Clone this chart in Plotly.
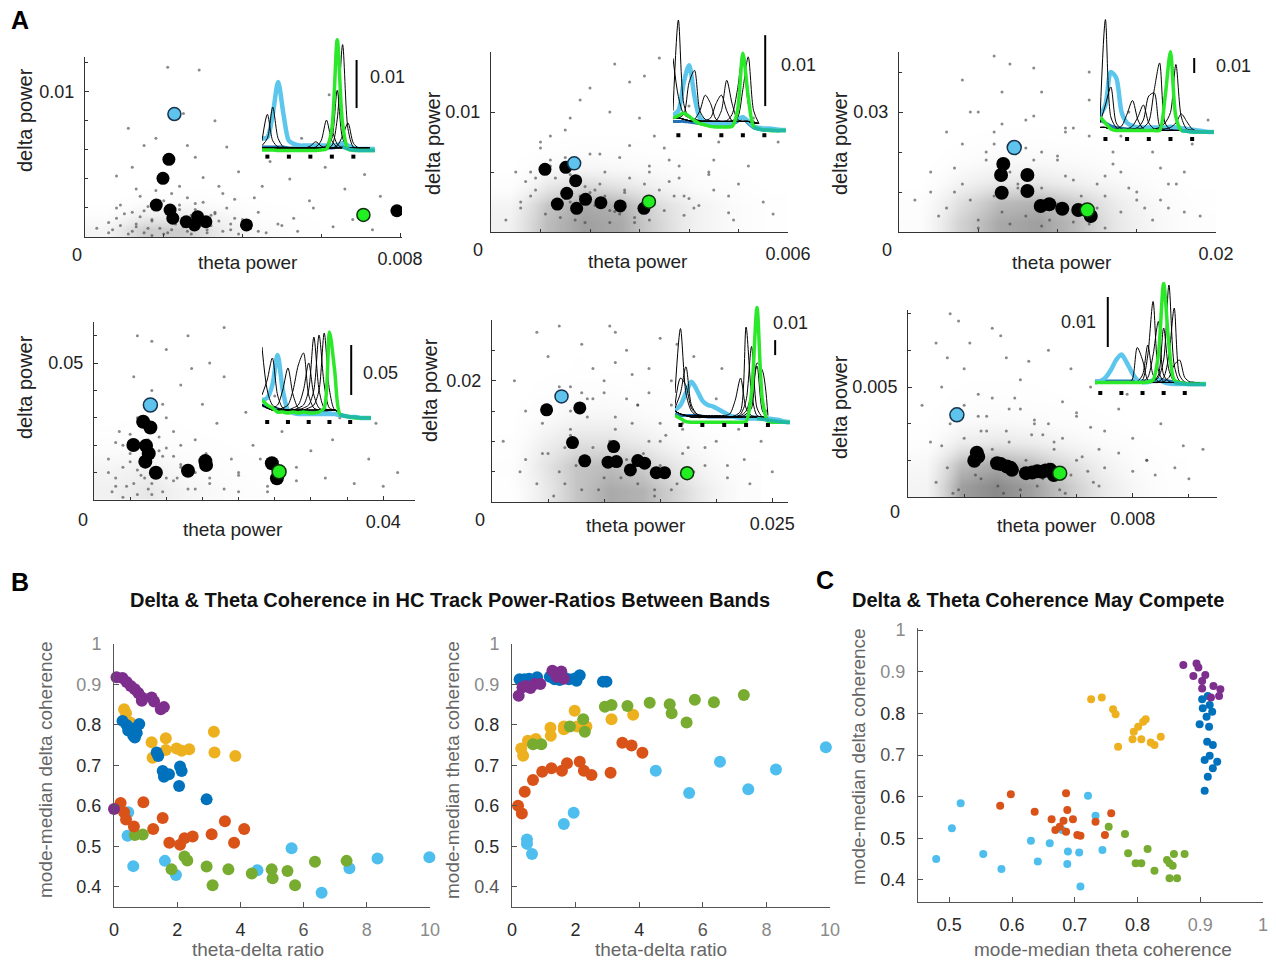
import plotly.graph_objects as go

W, H = 1276, 962
FONT = "Liberation Sans, Arial, Helvetica, sans-serif"

# ===================== PANEL A DATA =====================
# A1, A2, A6 values in units of 1e-4 ; A3, A4, A5 in units of 1e-3
A1_gray_x = [21,29,11,15,18,25,33,36,28,39,45,52,55,61,66,71,75,78,68,58,49,43,35,30,24,13,8,6,3,17,22,27,32,38,42,53,63,73,12,19,26,47,62,8,57,
             6,9,12,14,16,20,23,26,29,31,34,37,40,44,10,15,19,24,28,33]
A1_gray_y = [117,115,75,63,68,85,80,62,55,45,35,40,68,48,33,43,28,19,12,20,9,27,30,41,35,33,20,10,6,12,5,15,8,13,6,13,7,5,48,41,63,52,98,42,25,
             3,8,4,14,6,2,9,4,7,3,11,5,9,4,16,18,25,22,19,17]
A1_core_x = [7,11,13,15,17,19,21,23,25,27,29,31,33,35,37,39,42,46,50,54,8,12,16,20,24,28,32,36,40,44,14,18,22,26,30,34,38,9,13,17]
A1_core_y = [5,2,9,3,11,6,3,14,7,2,12,5,16,4,9,2,6,3,8,4,13,17,21,25,19,23,15,20,12,17,28,32,30,27,24,35,26,22,7,1]
A1_grid_x = [5, 15, 25, 35, 45, 55, 65, 75]
A1_grid_y = [5, 15, 25, 35, 45]
A1_grid_z = [[0.30, 0.65, 0.65, 0.40, 0.22, 0.10, 0.05, 0.03],
             [0.15, 0.38, 0.42, 0.28, 0.14, 0.07, 0.04, 0.02],
             [0.05, 0.14, 0.18, 0.11, 0.07, 0.04, 0.02, 0.00],
             [0.00, 0.05, 0.07, 0.05, 0.03, 0.02, 0.00, 0.00],
             [0.00, 0.02, 0.03, 0.02, 0.01, 0.00, 0.00, 0.00]]
A1_black_x = [21.3, 19.8, 18.1, 21.6, 22.3, 25.7, 27.8, 28.6, 30.7, 41.0, 79.2]
A1_black_y = [53.5, 40.4, 22.0, 18.6, 12.9, 10.5, 8.3, 14.0, 10.5, 8.3, 18.1]
A1_blue = (22.7, 84.7)
A1_green = (70.7, 15.2)

A2_gray_x = [3, 8, 12, 15, 20, 25, 30, 35, 40, 45, 50, 55, 58, 5, 10, 18, 22, 28, 33, 38, 43, 48, 52, 57, 13, 17, 24, 27, 31, 36, 41, 46, 26, 19, 9, 44, 53, 29, 34, 6, 39, 49, 16, 21, 32]
A2_gray_y = [10, 30, 55, 85, 120, 140, 95, 70, 105, 60, 40, 25, 75, 50, 75, 110, 65, 125, 80, 45, 90, 30, 55, 15, 20, 40, 100, 35, 130, 60, 20, 75, 15, 25, 45, 50, 95, 8, 145, 25, 30, 10, 95, 35, 50]
A2_core_x = [6,9,11,13,15,17,19,21,23,25,27,29,31,33,35,37,39,42,45,48,8,12,16,20,24,28,32,36,40,44,10,14,18,22,26,30,34,38,12,16,20,24,28,32,7,11,15,19,23,27]
A2_core_y = [20,35,15,45,28,10,38,22,50,17,33,12,40,25,18,30,14,22,35,16,50,60,25,65,8,45,55,42,28,48,70,12,30,40,62,20,35,55,80,48,33,18,72,10,42,55,62,8,30,24]
A2_grid_x = [3.75, 11.25, 18.75, 26.25, 33.75, 41.25, 48.75, 56.25]
A2_grid_y = [7.5, 22.5, 37.5, 52.5, 67.5, 82.5]
A2_grid_z = [[0.35, 0.75, 0.90, 0.85, 0.60, 0.35, 0.20, 0.10],
             [0.30, 0.70, 0.85, 0.80, 0.55, 0.35, 0.20, 0.10],
             [0.15, 0.45, 0.60, 0.50, 0.35, 0.20, 0.12, 0.05],
             [0.05, 0.25, 0.30, 0.25, 0.20, 0.12, 0.07, 0.03],
             [0.02, 0.10, 0.15, 0.12, 0.10, 0.06, 0.03, 0.01],
             [0.00, 0.04, 0.06, 0.06, 0.04, 0.02, 0.01, 0.00]]
A2_black_x = [10.9, 15.1, 17.1, 15.3, 13.4, 17.3, 19.1, 22.2, 26.1, 30.9]
A2_black_y = [52.2, 53.9, 42.8, 32.2, 23.3, 19.7, 27.2, 24.4, 21.7, 19.7]
A2_blue = (16.8, 57.2)
A2_green = (31.9, 25.3)

A3_gray_x = [1, 2, 3, 4, 5, 6, 7, 8, 9, 10, 11, 12, 13, 14, 15, 16, 17, 18, 19, 19.5, 2.5, 3.5, 5.5, 7.5, 9.5, 11.5, 13.5, 15.5, 17.5, 4.5, 6.5, 8.5, 10.5, 12.5, 14.5, 16.5, 18.5, 6, 9, 12]
A3_gray_y = [8, 15, 25, 38, 30, 22, 42, 28, 35, 18, 26, 33, 14, 24, 10, 20, 6, 15, 4, 28, 4, 10, 18, 12, 8, 5, 20, 6, 12, 30, 35, 41, 25, 12, 30, 8, 22, 44, 20, 40]
A3_core_x = [3,4,5,6,7,8,9,10,11,12,13,14,15,16,3.5,4.5,5.5,6.5,7.5,8.5,9.5,10.5,11.5,12.5,13.5,14.5,4,6,8,10,12,14,5,7,9,11,13,6.5,8.5,10.5,2,17,18,16.5]
A3_core_y = [6,12,3,9,15,4,11,7,13,2,9,5,8,3,16,8,20,5,11,18,3,14,9,6,17,11,22,25,21,19,24,15,1,2,1.5,2.5,1,27,29,26,10,12,5,16]
A3_grid_x = [1.25, 3.75, 6.25, 8.75, 11.25, 13.75, 16.25, 18.75]
A3_grid_y = [2.5, 7.5, 12.5, 17.5, 22.5, 27.5]
A3_grid_z = [[0.15, 0.60, 0.85, 0.90, 0.75, 0.45, 0.25, 0.12],
             [0.12, 0.50, 0.75, 0.80, 0.65, 0.40, 0.22, 0.10],
             [0.05, 0.30, 0.45, 0.45, 0.35, 0.25, 0.12, 0.05],
             [0.02, 0.15, 0.25, 0.25, 0.20, 0.12, 0.06, 0.02],
             [0.00, 0.07, 0.12, 0.12, 0.10, 0.06, 0.03, 0.01],
             [0.00, 0.03, 0.05, 0.05, 0.04, 0.02, 0.01, 0.00]]
A3_black_x = [6.58, 6.44, 6.48, 8.1, 8.1, 8.94, 9.48, 10.3, 11.31, 12.1]
A3_black_y = [17.0, 14.25, 9.83, 14.25, 10.25, 6.5, 6.92, 5.83, 5.5, 4.0]
A3_blue = (7.27, 21.1)
A3_green = (11.88, 5.5)

A4_gray_x = [2, 3, 4, 5, 6, 7, 8, 9, 10, 11, 12, 13, 14, 15, 16, 17, 18, 19, 20, 21, 22, 24, 26, 28, 30, 32, 34, 36, 38, 40, 42,
             3.5, 5.5, 7.5, 9.5, 11.5, 13.5, 15.5, 8, 10, 12, 6, 14, 25, 33, 39, 20, 16, 23, 18]
A4_gray_y = [10, 5, 20, 14, 30, 8, 40, 18, 55, 25, 12, 60, 22, 35, 8, 28, 45, 15, 10, 32, 20, 5, 25, 12, 18, 8, 30, 6, 15, 5, 10,
             25, 45, 22, 35, 8, 48, 17, 58, 30, 42, 60, 4, 38, 22, 28, 3, 50, 15, 63]
A4_core_x = [2.5,3,4,4.5,5,6,6.5,7,8,9,9.5,10,11,12,13,14,3,5,7,9,11,2,4,6,8,10,12,5.5,7.5,9.5,16,18,20,24,28]
A4_core_y = [3,8,12,5,17,2,9,14,6,11,3,19,7,13,4,10,21,24,18,23,16,15,1,11,2,8,20,6,4,16,6,4,9,3,7]
A4_grid_x = [2.5, 7.5, 12.5, 17.5, 22.5, 27.5, 32.5, 37.5]
A4_grid_y = [4, 12, 20, 28, 36, 44]
A4_grid_z = [[0.35, 0.45, 0.30, 0.20, 0.12, 0.08, 0.05, 0.03],
             [0.30, 0.35, 0.22, 0.14, 0.08, 0.05, 0.03, 0.02],
             [0.15, 0.20, 0.12, 0.08, 0.04, 0.02, 0.01, 0.00],
             [0.06, 0.10, 0.06, 0.03, 0.02, 0.01, 0.00, 0.00],
             [0.03, 0.05, 0.03, 0.02, 0.01, 0.00, 0.00, 0.00],
             [0.01, 0.02, 0.02, 0.01, 0.00, 0.00, 0.00, 0.00]]
A4_black_x = [6.8, 7.8, 5.45, 7.2, 7.57, 7.1, 8.56, 13.0, 15.4, 15.5, 24.6, 25.3]
A4_black_y = [28.6, 26.5, 20.1, 19.8, 17.0, 14.0, 9.97, 10.7, 14.2, 12.8, 13.4, 7.9]
A4_blue = (7.8, 34.7)
A4_green = (25.6, 10.3)

A5_gray_x = [1, 2, 3, 4, 5, 6, 7, 8, 9, 10, 11, 12, 13, 14, 15, 16, 17, 18, 19, 20, 21, 22, 23, 24, 25, 2.5, 4.5, 6.5, 8.5, 10.5, 12.5, 14.5, 16.5, 18.5, 20.5, 22.5, 24.5, 7, 11, 15]
A5_gray_y = [10, 20, 15, 28, 24, 29, 12, 26, 22, 18, 28, 25, 16, 22, 27, 20, 13, 24, 9, 17, 6, 12, 3, 10, 5, 5, 8, 3, 17, 29, 21, 2, 26, 14, 22, 7, 15, 19, 23, 10]
A5_core_x = [4,5,6,7,8,9,10,11,12,13,14,15,16,17,18,4.5,5.5,6.5,7.5,8.5,9.5,10.5,11.5,12.5,13.5,14.5,15.5,16.5,17.5,5,7,9,11,13,15,17,6,8,10,12,14,16,3,19,20,21]
A5_core_y = [3,8,5,11,2,9,4,12,7,3,10,6,2,8,5,13,1,9,6,14,2,10,4,13,8,1,11,3,9,16,15,17,14,16,13,12,19,18,20,17,18,16,7,6,10,4]
A5_grid_x = [1.5, 4.5, 7.5, 10.5, 13.5, 16.5, 19.5, 22.5]
A5_grid_y = [2, 6, 10, 14, 18, 22]
A5_grid_z = [[0.10, 0.40, 0.70, 0.85, 0.80, 0.60, 0.35, 0.15],
             [0.12, 0.45, 0.70, 0.75, 0.65, 0.45, 0.25, 0.12],
             [0.08, 0.35, 0.50, 0.50, 0.40, 0.25, 0.15, 0.07],
             [0.04, 0.20, 0.30, 0.30, 0.22, 0.14, 0.08, 0.04],
             [0.02, 0.10, 0.15, 0.15, 0.10, 0.06, 0.03, 0.01],
             [0.01, 0.05, 0.07, 0.06, 0.04, 0.02, 0.01, 0.00]]
A5_black_x = [4.87, 7.83, 7.18, 10.85, 8.27, 10.35, 11.1, 12.34, 13.0, 13.61, 14.65, 15.39]
A5_black_y = [15.2, 15.5, 9.8, 9.14, 6.78, 6.56, 6.66, 5.29, 6.83, 6.4, 4.84, 4.84]
A5_blue = (6.2, 17.4)
A5_green = (17.4, 4.74)

A6_gray_x = [5, 10, 15, 20, 25, 30, 35, 40, 45, 50, 55, 60, 65, 70, 75, 80, 85, 90, 95, 100, 105, 8, 12, 18, 22, 28, 33, 38, 43, 48, 58, 68, 78, 88, 98, 14, 26, 36, 52, 62]
A6_gray_y = [45, 62, 70, 55, 48, 66, 58, 52, 40, 60, 46, 42, 50, 38, 44, 36, 30, 40, 28, 25, 33, 35, 50, 68, 62, 42, 64, 47, 57, 37, 55, 33, 48, 26, 34, 58, 38, 44, 35, 68]
A6_core_x = [10,14,18,22,26,30,34,38,42,46,50,54,58,62,66,70,12,16,20,24,28,32,36,40,44,48,52,56,60,64,68,15,25,35,45,55,65,75,80,85,20,30,40,50,60]
A6_core_y = [24,28,22,31,25,33,21,27,30,23,29,22,26,31,24,28,34,21,36,26,38,23,35,22,37,25,33,21,30,27,23,40,42,38,41,36,39,32,27,30,45,47,44,40,43]
A6_grid_x = [6.25, 18.75, 31.25, 43.75, 56.25, 68.75, 81.25, 93.75]
A6_grid_y = [23, 29, 35, 41, 47, 53]
A6_grid_z = [[0.30, 0.90, 1.00, 0.90, 0.70, 0.45, 0.25, 0.10],
             [0.25, 0.75, 0.85, 0.75, 0.55, 0.35, 0.18, 0.08],
             [0.12, 0.40, 0.45, 0.40, 0.30, 0.20, 0.10, 0.04],
             [0.06, 0.20, 0.22, 0.20, 0.14, 0.08, 0.04, 0.02],
             [0.03, 0.10, 0.12, 0.10, 0.07, 0.04, 0.02, 0.01],
             [0.01, 0.05, 0.06, 0.05, 0.03, 0.02, 0.01, 0.00]]
A6_black_x = [24.5, 25.0, 23.6, 31.7, 33.0, 35.2, 36.5, 37.0, 42.0, 44.2, 46.0, 47.7, 49.0, 50.7, 51.9]
A6_black_y = [32.1, 31.0, 29.9, 29.2, 29.0, 28.3, 28.0, 27.4, 26.5, 26.7, 27.0, 26.9, 27.2, 27.4, 26.0]
A6_blue = (17.4, 42.4)
A6_green = (54.0, 26.5)

# ---------- inset spectra (power in units of 1e-3, sampled at INSET_F Hz) ----------
INSET_F = [1.5, 2, 2.5, 3, 3.5, 4, 4.5, 5, 5.5, 6, 6.5, 7, 7.5, 8, 8.5, 9, 9.5, 10, 10.5, 11, 11.5, 12]
INSET_MARK_F = [2, 4, 6, 8, 10]
SCALE_BAR = [10, 10, 10, 50, 10, 10]        # 0.01, 0.01, 0.01, 0.05, 0.01, 0.01
SCALE_LABEL = ["0.01", "0.01", "0.01", "0.05", "0.01", "0.01"]

A1_in_black = [
    [2.5, 8, 2.5, 1.2, 1, 1, 1, 1, 1, 1, 1, 1, 1, 1, 1, 1, 1, 1, 1, 1, 1],
    [1.5, 3, 9.5, 3, 1.2, 1, 1, 1, 1, 1, 1, 1, 1, 1, 1, 1, 1, 1, 1, 1, 1],
    [1, 1, 1, 1, 1, 1, 1, 1, 1, 1, 1.2, 2.5, 6.8, 2.5, 1.2, 1, 1, 1, 1, 1, 1],
    [1, 1, 1, 1, 1, 1, 1, 1, 1, 1, 1, 1, 1, 1.5, 7, 22.5, 5, 1.2, 1, 1, 1],
    [1, 1, 1, 1, 1, 1, 1, 1, 1, 1, 1, 1, 1, 1, 1.5, 3.5, 6.2, 2, 1, 1, 1],
    [1, 1, 1, 1, 1, 1, 1, 1, 1, 1, 1, 1, 1.5, 4.3, 1.8, 1, 1, 1, 1, 1, 1],
    [1, 1, 1, 1, 1, 1, 1, 1, 1, 1.4, 2.3, 1.4, 1, 1, 1, 1, 1, 1, 1, 1, 1],
    [1, 1, 1, 1, 1, 1, 1, 1, 1, 1, 1, 1, 1.2, 3, 13, 3, 1.2, 1, 1, 1, 1]]
A1_in_blue = [3, 3.2, 8, 14.7, 8, 2.5, 1.8, 1.5, 1.5, 1.5, 1.5, 1.5, 1.5, 1.5, 1.6, 2, 1.5, 1, 0.8, 0.8, 0.8, 0.8]
A1_in_green = [0.6, 0.6, 0.6, 0.5, 0.5, 0.5, 0.5, 0.5, 0.5, 0.5, 0.5, 0.6, 0.8, 5, 23.5, 6, 0.8, 0.5, 0.5, 0.5, 0.5, 0.5]
A1_in_dblue = [1.2, 1.2, 1.2, 1.2, 1.2, 1, 1, 1, 1, 1, 1, 1, 1, 1, 1.2, 1.5, 1, 0.7, 0.5, 0.5, 0.5, 0.5]
A1_in_teal = [1.2, 0.8, 0.6, 0.5, 0.5, 0.5, 0.5]

A2_in_black = [
    [3, 15.8, 4, 2, 1.8, 1.6, 1.5, 1.5, 1.5, 1.5, 1.5, 1.5, 1.5, 1.5, 1.5, 1.3, 1.2],
    [10.4, 5, 2.5, 2, 1.8, 1.6, 1.5, 1.5, 1.5, 1.5, 1.5, 1.5, 1.5, 1.5, 1.5, 1.3, 1.2],
    [2, 2, 2.5, 7, 8.7, 3, 1.8, 1.6, 1.5, 1.5, 1.5, 1.5, 1.5, 1.5, 1.5, 1.3, 1.2],
    [2, 2, 1.8, 1.6, 1.8, 3, 5.2, 4, 1.8, 1.5, 1.5, 1.5, 1.5, 1.5, 1.5, 1.3, 1.2],
    [2, 2, 1.8, 1.6, 1.5, 1.5, 1.6, 2, 4, 5.2, 3, 1.6, 1.5, 1.5, 1.5, 1.3, 1.2],
    [2, 2, 1.8, 1.6, 1.5, 1.5, 1.5, 1.5, 1.6, 3, 7.3, 4, 1.8, 1.5, 1.5, 1.3, 1.2],
    [2, 2, 1.8, 1.6, 1.5, 1.5, 1.5, 1.5, 1.5, 1.5, 1.6, 2.5, 6, 11.1, 4, 1.5, 1.2],
    [2, 2, 1.8, 1.6, 1.5, 1.5, 1.5, 1.5, 1.5, 1.5, 1.5, 1.6, 2, 6, 10.6, 3, 1.2]]
A2_in_blue = [2.4, 3, 7, 9.4, 5, 2, 1.5, 1.3, 1.2, 1.2, 1.2, 1.3, 1.8, 2.1, 1.5, 0.8, 0.6, 0.5, 0.5, 0.4, 0.3, 0.3]
A2_in_green = [2, 2.3, 2.7, 2.2, 1.6, 1.2, 1, 0.8, 0.7, 0.7, 0.7, 0.8, 3, 11.1, 5, 0.8, 0.4, 0.3, 0.2, 0.2, 0.2, 0.2]
A2_in_dblue = [1.5, 1.5, 1.5, 1.4, 1.3, 1.2, 1.1, 1, 1, 1, 1, 1.1, 1.5, 2, 1.2, 0.6, 0.4, 0.3, 0.3, 0.2, 0.2, 0.2]
A2_in_teal = [0.6, 0.4, 0.3, 0.3, 0.2, 0.2, 0.2]

A3_in_black = [
    [10, 77, 12, 5, 3, 3, 3, 3, 3, 3, 3, 3, 3, 3, 3, 3, 3, 3, 2.5, 2],
    [8, 20, 32, 8, 4, 3, 3, 3, 3, 3, 3, 3, 3, 3, 3, 3, 3, 3, 2.5, 2],
    [5, 5, 4, 4, 6, 14, 23, 10, 4, 3, 3, 3, 3, 3, 3, 3, 3, 3, 2.5, 2],
    [5, 5, 4, 3.5, 3.5, 4, 6, 12, 20, 8, 4, 3, 3, 3, 3, 3, 3, 3, 2.5, 2],
    [5, 5, 4, 3.5, 3.5, 3.5, 4, 5, 10, 26, 28, 6, 3, 3, 3, 3, 3, 3, 2.5, 2],
    [5, 5, 4, 3.5, 3.5, 3.5, 3.5, 4, 5, 9, 30, 48, 8, 3.5, 3, 3, 3, 3, 2.5, 2],
    [5, 5, 4, 3.5, 3.5, 3.5, 3.5, 3.5, 3.5, 3.5, 4, 5, 8, 15, 47, 12, 4, 3, 2.5, 2],
    [5, 5, 4, 3.5, 3.5, 3.5, 3.5, 3.5, 3.5, 3.5, 3.5, 4, 4, 5, 8, 14, 9, 4, 2.5, 2]]
A3_in_blue = [13, 20, 42, 38, 15, 8, 6, 5, 5, 5, 5, 5, 5, 5.5, 5, 4.5, 4, 3.5, 3, 2.5, 2, 2]
A3_in_green = [12, 8, 4, 3, 3, 3, 3, 3, 3, 3, 3, 3, 25, 55.5, 12, 3, 2.5, 2, 2, 2, 2, 2]
A3_in_dblue = [10, 8, 6, 5, 4.5, 4, 4, 4, 4, 4, 4, 4, 4, 4.5, 4, 3.5, 3, 2.5, 2, 2, 2, 2]
A3_in_teal = [3, 2.5, 2, 2, 2, 2, 2]

A4_in_black = [
    [73, 30, 15, 12, 10, 10, 10, 10, 10, 10, 10, 10, 10, 10, 10, 8],
    [25, 40, 62, 25, 12, 10, 10, 10, 10, 10, 10, 10, 10, 10, 10, 8],
    [15, 12, 12, 15, 30, 52, 25, 12, 10, 10, 10, 10, 10, 10, 10, 8],
    [15, 12, 10, 10, 12, 15, 30, 55, 67, 25, 12, 10, 10, 10, 10, 8],
    [15, 12, 10, 10, 10, 10, 12, 15, 30, 57, 25, 12, 10, 10, 10, 8],
    [15, 12, 10, 10, 10, 10, 10, 12, 15, 30, 83, 30, 12, 10, 10, 8],
    [15, 12, 10, 10, 10, 10, 10, 10, 12, 15, 30, 85, 35, 12, 10, 8],
    [15, 12, 10, 10, 10, 10, 10, 10, 10, 12, 15, 30, 87, 30, 10, 8]]
A4_in_blue = [20, 22, 35, 65, 30, 10, 7, 6, 6, 6, 6, 6, 6, 6, 6, 5, 4, 3, 3, 2, 2, 2]
A4_in_green = [20, 15, 12, 8, 8, 7, 8, 7, 8, 7, 7, 8, 12, 88, 50, 6, 4, 3, 2, 2, 2, 2]
A4_in_dblue = [15, 13, 12, 11, 10, 9, 8, 8, 8, 8, 8, 8, 8, 7, 6, 5, 4, 3, 3, 2, 2, 2]
A4_in_teal = [5, 4, 3, 3, 2, 2, 2]

A5_in_black = [
    [20, 63, 20, 8, 5, 4, 4, 4, 4, 4, 4, 4, 4, 4, 4, 4, 4, 3],
    [10, 20, 37.5, 12, 6, 4, 4, 4, 4, 4, 4, 4, 4, 4, 4, 4, 4, 3],
    [12, 30, 25, 10, 6, 5, 4, 4, 4, 4, 4, 4, 4, 4, 4, 4, 4, 3],
    [8, 6, 5, 5, 5, 5, 5, 5, 5, 5, 6, 15, 30, 10, 5, 4, 4, 3],
    [8, 6, 5, 4, 4, 4, 4, 4, 4, 4, 4, 5, 8, 64, 20, 5, 4, 3],
    [8, 6, 5, 4, 4, 4, 4, 4, 4, 4, 4, 4, 6, 15, 51, 10, 4, 3],
    [8, 6, 5, 4, 4, 4, 4, 4, 4, 4, 4, 4, 4, 6, 10, 40, 35, 5],
    [8, 6, 5, 4, 4, 4, 4, 4, 4, 4, 4, 4, 5, 8, 20, 38, 8, 3]]
A5_in_blue = [8.7, 12, 20, 27.5, 22, 15, 12, 11, 9, 7, 5, 4, 3.5, 3, 3, 3, 3, 3, 2.5, 2, 1, 0.5]
A5_in_green = [5, 3, 1, 0.5, 0.5, 0.5, 0.5, 0.5, 0.5, 0.5, 0.5, 0.5, 0.5, 1, 20, 77, 15, 1, 0.5, 0.5, 0.5, 0.5]
A5_in_dblue = [6, 5, 5, 5, 5, 4.5, 4, 4, 4, 4, 4, 4, 4, 4, 4, 4, 3, 2.5, 2, 1.5, 1, 0.5]
A5_in_teal = [3, 2.5, 2, 1.5, 1, 0.5, 0.3]

A6_in_black = [
    [0.5, 0.5, 0.5, 0.5, 0.5, 0.5, 0.5, 1, 7.5, 5, 1, 0.5, 0.5, 0.5, 0.5, 0.5, 0.5, 0.5, 0.5, 0.5, 0.3],
    [0.5, 0.5, 0.5, 0.5, 0.5, 0.5, 0.5, 0.5, 0.7, 2, 8, 2, 0.7, 0.5, 0.5, 0.5, 0.5, 0.5, 0.5, 0.5, 0.3],
    [0.5, 0.5, 0.5, 0.5, 0.5, 0.5, 0.5, 0.5, 0.5, 1, 6, 16.7, 3, 0.7, 0.5, 0.5, 0.5, 0.5, 0.5, 0.5, 0.3],
    [0.5, 0.5, 0.5, 0.5, 0.5, 0.5, 0.5, 0.5, 0.5, 0.7, 1.5, 6, 12.7, 2, 0.7, 0.5, 0.5, 0.5, 0.5, 0.5, 0.3],
    [0.5, 0.5, 0.5, 0.5, 0.5, 0.5, 0.5, 0.5, 0.5, 0.5, 0.5, 0.7, 1.5, 5, 20, 4, 0.8, 0.5, 0.5, 0.5, 0.3],
    [0.5, 0.5, 0.5, 0.5, 0.5, 0.5, 0.5, 0.5, 0.5, 0.5, 0.5, 0.5, 0.7, 1.5, 6, 15.4, 2, 0.6, 0.5, 0.5, 0.3],
    [0.5, 0.5, 0.5, 0.5, 0.5, 0.5, 0.5, 0.5, 0.5, 0.5, 0.5, 0.5, 0.5, 0.7, 1.5, 4, 5, 1.5, 0.6, 0.5, 0.3],
    [0.5, 0.5, 0.5, 0.5, 0.5, 0.5, 0.5, 0.5, 0.5, 0.5, 0.5, 0.7, 2, 11.4, 3, 0.7, 0.5, 0.5, 0.5, 0.5, 0.3]]
A6_in_blue = [0.5, 0.8, 1.5, 3, 5, 6.1, 4.5, 2.5, 1, 0.6, 0.6, 0.8, 1, 0.6, 0.3, 0.2, 0.2, 0.2, 0.2, 0.2, 0.2, 0.2]
A6_in_green = [0.5, 0.5, 0.5, 0.5, 0.5, 0.5, 0.5, 0.5, 0.5, 0.5, 0.6, 1, 6, 20.3, 8, 1, 0.5, 0.3, 0.2, 0.2, 0.2, 0.2]
A6_in_dblue = [0.8, 0.8, 0.8, 0.8, 0.8, 0.8, 0.8, 0.8, 0.8, 0.8, 0.8, 1, 1.2, 1, 0.8, 0.6, 0.4, 0.3, 0.2, 0.2, 0.1, 0.1]
A6_in_teal = [0.5, 0.3, 0.2, 0.1, 0.1, 0.1, 0.1]

# ===================== PANEL B / C DATA =====================
B1_purple_x = [0.08, 0.27, 0.4, 0.53, 0.66, 0.77, 0.88, 0.88, 1.19, 1.27, 1.48, 1.58, 0.0]
B1_purple_y = [0.918, 0.916, 0.906, 0.896, 0.888, 0.879, 0.868, 0.86, 0.868, 0.858, 0.839, 0.844, 0.592]
B1_blue_x = [0.27, 0.4, 0.56, 0.45, 0.61, 0.66, 0.8, 0.72, 1.35, 1.4, 1.54, 1.58, 1.74, 2.09, 2.14, 2.06, 2.93]
B1_blue_y = [0.81, 0.8, 0.791, 0.786, 0.773, 0.769, 0.802, 0.78, 0.732, 0.723, 0.686, 0.672, 0.678, 0.697, 0.686, 0.649, 0.616]
B1_yellow_x = [0.32, 0.38, 0.51, 0.74, 1.19, 1.22, 1.64, 1.64, 1.98, 2.14, 2.38, 3.16, 3.18, 3.84]
B1_yellow_y = [0.839, 0.829, 0.806, 0.798, 0.757, 0.719, 0.767, 0.738, 0.742, 0.736, 0.74, 0.783, 0.732, 0.723]
B1_red_x = [0.21, 0.32, 0.38, 0.63, 0.93, 1.24, 1.54, 1.75, 2.09, 2.23, 2.49, 3.09, 3.51, 3.8, 4.12]
B1_red_y = [0.607, 0.584, 0.566, 0.549, 0.609, 0.543, 0.57, 0.509, 0.504, 0.52, 0.524, 0.53, 0.562, 0.509, 0.543]
B1_green_x = [0.66, 0.91, 2.23, 2.32, 1.82, 2.93, 3.12, 3.62, 4.36, 4.99, 5.02, 5.49, 5.73, 6.36, 7.36]
B1_green_y = [0.528, 0.529, 0.475, 0.465, 0.443, 0.45, 0.404, 0.443, 0.433, 0.443, 0.421, 0.439, 0.404, 0.462, 0.464]
B1_lblue_x = [0.45, 0.43, 0.61, 1.61, 1.96, 4.54, 5.62, 6.57, 7.45, 8.34, 9.98]
B1_lblue_y = [0.584, 0.526, 0.451, 0.464, 0.429, 0.441, 0.495, 0.385, 0.446, 0.47, 0.473]

B2_blue_x = [0.24, 0.4, 0.54, 0.79, 1.19, 1.34, 1.5, 1.63, 1.79, 1.97, 2.13, 2.03, 2.86, 2.97]
B2_blue_y = [0.913, 0.913, 0.914, 0.918, 0.919, 0.913, 0.911, 0.918, 0.913, 0.915, 0.923, 0.909, 0.907, 0.907]
B2_purple_x = [0.21, 0.33, 0.43, 0.58, 0.71, 0.89, 1.27, 1.4, 1.55, 1.63]
B2_purple_y = [0.872, 0.893, 0.896, 0.891, 0.901, 0.901, 0.934, 0.919, 0.932, 0.914]
B2_yellow_x = [0.29, 0.35, 0.5, 0.75, 1.21, 1.22, 1.63, 1.63, 1.97, 2.05, 2.34, 3.13, 3.81]
B2_yellow_y = [0.742, 0.724, 0.761, 0.765, 0.793, 0.773, 0.796, 0.789, 0.835, 0.796, 0.796, 0.814, 0.825]
B2_green_x = [0.66, 0.92, 1.82, 2.24, 2.29, 2.92, 3.13, 3.63, 4.33, 4.96, 5.02, 5.49, 5.75, 6.35, 7.29]
B2_green_y = [0.752, 0.752, 0.796, 0.814, 0.783, 0.845, 0.849, 0.847, 0.855, 0.851, 0.829, 0.806, 0.862, 0.856, 0.874]
B2_red_x = [0.19, 0.31, 0.4, 0.66, 0.95, 1.24, 1.57, 1.73, 2.13, 2.26, 2.5, 3.1, 3.47, 3.76, 4.1]
B2_red_y = [0.6, 0.581, 0.635, 0.664, 0.684, 0.693, 0.687, 0.705, 0.709, 0.687, 0.676, 0.682, 0.756, 0.749, 0.731]
B2_lblue_x = [0.47, 0.47, 0.63, 1.63, 1.94, 4.52, 5.57, 6.54, 7.43, 8.3, 9.87]
B2_lblue_y = [0.517, 0.506, 0.481, 0.555, 0.583, 0.687, 0.632, 0.709, 0.641, 0.69, 0.745]

C_purple_x = [0.873, 0.894, 0.897, 0.889, 0.908, 0.903, 0.903, 0.921, 0.932, 0.93, 0.917]
C_purple_y = [0.916, 0.92, 0.91, 0.89, 0.892, 0.878, 0.86, 0.866, 0.858, 0.842, 0.838]
C_blue_x = [0.903, 0.912, 0.915, 0.904, 0.899, 0.91, 0.919, 0.914, 0.911, 0.92, 0.907, 0.915, 0.927, 0.92, 0.912, 0.907]
C_blue_y = [0.834, 0.842, 0.82, 0.812, 0.774, 0.792, 0.804, 0.768, 0.732, 0.724, 0.688, 0.698, 0.684, 0.668, 0.648, 0.614]
C_yellow_x = [0.726, 0.743, 0.761, 0.765, 0.769, 0.792, 0.794, 0.801, 0.809, 0.813, 0.806, 0.821, 0.827, 0.837]
C_yellow_y = [0.834, 0.838, 0.81, 0.798, 0.72, 0.738, 0.756, 0.768, 0.78, 0.786, 0.738, 0.73, 0.724, 0.744]
C_red_x = [0.581, 0.598, 0.636, 0.663, 0.686, 0.688, 0.669, 0.676, 0.686, 0.682, 0.697, 0.704, 0.709, 0.733, 0.748, 0.758]
C_red_y = [0.578, 0.606, 0.564, 0.546, 0.608, 0.568, 0.52, 0.528, 0.516, 0.542, 0.546, 0.508, 0.506, 0.54, 0.508, 0.56]
C_lblue_x = [0.479, 0.504, 0.518, 0.554, 0.583, 0.63, 0.641, 0.66, 0.68, 0.689, 0.688, 0.707, 0.709, 0.721, 0.733, 0.744]
C_lblue_y = [0.45, 0.524, 0.584, 0.462, 0.426, 0.494, 0.444, 0.488, 0.52, 0.468, 0.438, 0.466, 0.384, 0.602, 0.554, 0.472]
C_green_x = [0.754, 0.78, 0.785, 0.797, 0.806, 0.816, 0.827, 0.847, 0.851, 0.856, 0.858, 0.851, 0.863, 0.875]
C_green_y = [0.528, 0.51, 0.464, 0.44, 0.44, 0.474, 0.422, 0.448, 0.44, 0.434, 0.462, 0.404, 0.404, 0.462]

B_TICKS = [0, 2, 4, 6, 8, 10]
COH_TICKS = [0.4, 0.5, 0.6, 0.7, 0.8, 0.9, 1]
C_XTICKS = [0.5, 0.6, 0.7, 0.8, 0.9, 1]

COL = dict(blue='#0072BD', red='#D95319', yellow='#EDB120', purple='#7E2F8E',
           green='#77AC30', lblue='#4DBEEE')

# ===================== FIGURE BUILDING =====================
fig = go.Figure()
lay = dict(width=W, height=H, autosize=False,
           margin=dict(l=0, r=0, t=0, b=0, pad=0, autoexpand=False),
           paper_bgcolor='white', plot_bgcolor='rgba(0,0,0,0)', showlegend=False)
anns = []
shapes = []
n_ax = [0]


def xdom(a, b):
    return [a / W, b / W]


def ydom(top, bot):
    return [1 - bot / H, 1 - top / H]


def add_axes(box, xcfg, ycfg):
    n_ax[0] += 1
    n = n_ax[0]
    s = '' if n == 1 else str(n)
    lay['xaxis' + s] = dict(domain=xdom(box[0], box[1]), anchor='y' + s, automargin=False, **xcfg)
    lay['yaxis' + s] = dict(domain=ydom(box[2], box[3]), anchor='x' + s, automargin=False, **ycfg)
    return 'x' + s, 'y' + s


def text(s, px, py, size=17, color='#222', bold=False, angle=0, xanchor='center'):
    anns.append(dict(text=('<b>%s</b>' % s) if bold else s, x=px / W, y=1 - py / H,
                     xref='paper', yref='paper', xanchor=xanchor, yanchor='middle',
                     showarrow=False, textangle=angle,
                     font=dict(family=FONT, size=size, color=color)))


def a_axis(rng, majv, majt, minv, standoff):
    return dict(range=rng, showgrid=False, zeroline=False, showline=True, linecolor='#333',
                linewidth=1, ticks='inside', ticklen=4, tickwidth=1, tickcolor='#333',
                tickmode='array', tickvals=majv, ticktext=majt, ticklabelstandoff=standoff,
                tickfont=dict(family=FONT, size=18, color='#222'),
                minor=dict(tickmode='array', tickvals=minv, ticks='inside', ticklen=3,
                           tickcolor='#333', showgrid=False),
                fixedrange=True)


GRAY_CS = [[0, 'rgba(255,255,255,0)'], [1, 'rgba(40,40,40,0.55)']]

A_PANELS = [
    dict(box=(85, 402, 57, 237), xr=[0, 80.5], yr=[0, 124],
         xmaj=[80], xlab=["0.008"], xmin=[20, 40, 60], ymaj=[100], ylab=["0.01"], ymin=[20, 40, 60, 80, 120],
         gray=(A1_gray_x + A1_core_x, A1_gray_y + A1_core_y), grid=(A1_grid_x, A1_grid_y, A1_grid_z),
         black=(A1_black_x, A1_black_y), blue=A1_blue, green=A1_green, ms=13,
         zero=(77, 255), ylabel=(25, 120), xlabel=(248, 262),
         inset=dict(box=(262, 377, 35, 160), yr=[-1.5, 24.5], black=A1_in_black, blue=A1_in_blue,
                    green=A1_in_green, dblue=A1_in_dblue, teal=A1_in_teal, marky=-0.8,
                    bar=(10.3, 9.3), label=(387, 77))),
    dict(box=(491, 788, 52, 232), xr=[0, 60], yr=[0, 150],
         xmaj=[60], xlab=["0.006"], xmin=[10, 20, 30, 40, 50], ymaj=[100], ylab=["0.01"], ymin=[50, 150],
         gray=(A2_gray_x + A2_core_x, A2_gray_y + A2_core_y), grid=(A2_grid_x, A2_grid_y, A2_grid_z),
         black=(A2_black_x, A2_black_y), blue=A2_blue, green=A2_green, ms=13,
         zero=(478, 250), ylabel=(433, 143), xlabel=(638, 261),
         inset=dict(box=(673, 788, 15, 137), yr=[-0.7, 16.5], black=A2_in_black, blue=A2_in_blue,
                    green=A2_in_green, dblue=A2_in_dblue, teal=A2_in_teal, marky=-0.45,
                    bar=(10.08, 3.66), label=(798, 65))),
    dict(box=(899, 1216, 52, 232), xr=[0, 20], yr=[0, 45],
         xmaj=[20], xlab=["0.02"], xmin=[5, 10, 15], ymaj=[30], ylab=["0.03"], ymin=[10, 20, 40],
         gray=(A3_gray_x + A3_core_x, A3_gray_y + A3_core_y), grid=(A3_grid_x, A3_grid_y, A3_grid_z),
         black=(A3_black_x, A3_black_y), blue=A3_blue, green=A3_green, ms=14,
         zero=(887, 250), ylabel=(840, 143), xlabel=(1062, 262),
         inset=dict(box=(1100, 1216, 15, 142), yr=[-4.7, 80], black=A3_in_black, blue=A3_in_blue,
                    green=A3_in_green, dblue=A3_in_dblue, teal=A3_in_teal, marky=-2.7,
                    bar=(10.19, 41.3), label=(1233, 66))),
    dict(box=(94, 415, 322, 500), xr=[0, 44.4], yr=[0, 65],
         xmaj=[40], xlab=["0.04"], xmin=[5, 10, 15, 20, 25, 30, 35], ymaj=[50], ylab=["0.05"], ymin=[10, 20, 30, 40, 60],
         gray=(A4_gray_x + A4_core_x, A4_gray_y + A4_core_y), grid=(A4_grid_x, A4_grid_y, A4_grid_z),
         black=(A4_black_x, A4_black_y), blue=A4_blue, green=A4_green, ms=14,
         zero=(83, 520), ylabel=(25, 387), xlabel=(233, 529),
         inset=dict(box=(262, 373, 325, 427), yr=[-7, 95], black=A4_in_black, blue=A4_in_blue,
                    green=A4_in_green, dblue=A4_in_dblue, teal=A4_in_teal, marky=-2,
                    bar=(10.1, 25), label=(380, 373))),
    dict(box=(492, 788, 320, 502), xr=[0, 26.4], yr=[0, 30],
         xmaj=[25], xlab=["0.025"], xmin=[5, 10, 15, 20], ymaj=[20], ylab=["0.02"], ymin=[5, 10, 15, 25],
         gray=(A5_gray_x + A5_core_x, A5_gray_y + A5_core_y), grid=(A5_grid_x, A5_grid_y, A5_grid_z),
         black=(A5_black_x, A5_black_y), blue=A5_blue, green=A5_green, ms=13,
         zero=(480, 520), ylabel=(430, 390), xlabel=(636, 525),
         inset=dict(box=(675, 792, 302, 428), yr=[-3.3, 80.7], black=A5_in_black, blue=A5_in_blue,
                    green=A5_in_green, dblue=A5_in_dblue, teal=A5_in_teal, marky=-1.3,
                    bar=(10.66, 45.3), label=(790, 323))),
    dict(box=(908, 1217, 310, 497), xr=[0, 110], yr=[20, 71],
         xmaj=[80], xlab=["0.008"], xmin=[20, 40, 60, 100], ymaj=[50], ylab=["0.005"], ymin=[30, 40, 60, 70],
         gray=(A6_gray_x + A6_core_x, A6_gray_y + A6_core_y), grid=(A6_grid_x, A6_grid_y, A6_grid_z),
         black=(A6_black_x, A6_black_y), blue=A6_blue, green=A6_green, ms=14,
         zero=(895, 512), ylabel=(840, 407), xlabel=(1047, 525),
         inset=dict(box=(1095, 1208, 280, 398), yr=[-2.6, 21], black=A6_in_black, blue=A6_in_blue,
                    green=A6_in_green, dblue=A6_in_dblue, teal=A6_in_teal, marky=-1.6,
                    bar=(2.71, 7.6), label=(1078, 322))),
]

for k, P in enumerate(A_PANELS):
    xa, ya = add_axes(P['box'],
                      a_axis(P['xr'], P['xmaj'], P['xlab'], P['xmin'], 5),
                      a_axis(P['yr'], P['ymaj'], P['ylab'], P['ymin'], 6))
    gx, gy, gz = P['grid']
    fig.add_trace(go.Heatmap(x=gx, y=gy, z=gz, xaxis=xa, yaxis=ya, zmin=0, zmax=1,
                             zsmooth='best', showscale=False, colorscale=GRAY_CS,
                             hoverinfo='skip'))
    fig.add_trace(go.Scatter(x=P['gray'][0], y=P['gray'][1], mode='markers', xaxis=xa, yaxis=ya,
                             marker=dict(size=3, color='rgba(60,60,60,0.6)'), hoverinfo='skip'))
    fig.add_trace(go.Scatter(x=P['black'][0], y=P['black'][1], mode='markers', xaxis=xa, yaxis=ya,
                             marker=dict(size=P['ms'], color='black', line=dict(width=0))))
    fig.add_trace(go.Scatter(x=[P['blue'][0]], y=[P['blue'][1]], mode='markers', xaxis=xa, yaxis=ya,
                             marker=dict(size=P['ms'], color='#5EC4EE', line=dict(color='#17324d', width=1.5))))
    fig.add_trace(go.Scatter(x=[P['green'][0]], y=[P['green'][1]], mode='markers', xaxis=xa, yaxis=ya,
                             marker=dict(size=P['ms'], color='#22EE22', line=dict(color='#0b300b', width=1.5))))
    text("0", P['zero'][0], P['zero'][1], size=18)
    text("delta power", P['ylabel'][0], P['ylabel'][1], size=20, angle=-90)
    text("theta power", P['xlabel'][0], P['xlabel'][1], size=19)

    I = P['inset']
    ixa, iya = add_axes(I['box'], dict(range=[1.5, 12.2], visible=False, fixedrange=True),
                        dict(range=I['yr'], visible=False, fixedrange=True))
    fig.add_trace(go.Scatter(x=INSET_F, y=I['dblue'], mode='lines', xaxis=ixa, yaxis=iya,
                             line=dict(color='#2372B5', width=3, shape='spline', smoothing=0.8)))
    fig.add_trace(go.Scatter(x=INSET_F, y=I['blue'], mode='lines', xaxis=ixa, yaxis=iya,
                             line=dict(color='#5CC6EC', width=4.5, shape='spline', smoothing=0.8)))
    for tr in I['black']:
        fig.add_trace(go.Scatter(x=INSET_F[:len(tr)], y=tr, mode='lines', xaxis=ixa, yaxis=iya,
                                 line=dict(color='black', width=1, shape='spline', smoothing=0.8)))
    fig.add_trace(go.Scatter(x=INSET_F, y=I['green'], mode='lines', xaxis=ixa, yaxis=iya,
                             line=dict(color='#2BE82B', width=3.5, shape='spline', smoothing=0.8)))
    fig.add_trace(go.Scatter(x=INSET_F[-len(I['teal']):], y=I['teal'], mode='lines', xaxis=ixa, yaxis=iya,
                             line=dict(color='#22B8A8', width=3.5, shape='spline', smoothing=0.8)))
    fig.add_trace(go.Scatter(x=INSET_MARK_F, y=[I['marky']] * len(INSET_MARK_F), mode='markers',
                             xaxis=ixa, yaxis=iya, cliponaxis=False,
                             marker=dict(symbol='square', size=4, color='black')))
    bx, by = I['bar']
    shapes.append(dict(type='line', xref=ixa, yref=iya, x0=bx, x1=bx, y0=by, y1=by + SCALE_BAR[k],
                       line=dict(color='black', width=2)))
    text(SCALE_LABEL[k], I['label'][0], I['label'][1], size=18)


# ------------------ B & C ------------------
def colored(vals, fmt, colors):
    return ['<span style="color:%s">%s</span>' % (c, fmt(v)) for v, c in zip(vals, colors)]


def b_axis(rng, vals, texts, standoff):
    return dict(range=rng, showgrid=False, zeroline=False, showline=True, linecolor='#555',
                linewidth=1, ticks='inside', ticklen=5, tickwidth=1, tickcolor='#555',
                tickmode='array', tickvals=vals, ticktext=texts, ticklabelstandoff=standoff,
                tickfont=dict(family=FONT, size=18, color='#333'), fixedrange=True)


fmt_int = lambda v: '%d' % v
fmt_coh = lambda v: ('%g' % v)

DK, MD, LT = '#2a2a2a', '#555555', '#8a8a8a'

# B1
xa, ya = add_axes((114, 430, 644, 907),
                  b_axis([0, 10], B_TICKS, colored(B_TICKS, fmt_int, [DK, DK, DK, MD, LT, LT]), 6),
                  b_axis([0.35, 1.0], COH_TICKS, colored(COH_TICKS, fmt_coh, [DK, DK, DK, DK, DK, LT, LT]), 8))
for nm, xs, ys in [('lblue', B1_lblue_x, B1_lblue_y), ('green', B1_green_x, B1_green_y),
                   ('red', B1_red_x, B1_red_y), ('yellow', B1_yellow_x, B1_yellow_y),
                   ('blue', B1_blue_x, B1_blue_y), ('purple', B1_purple_x, B1_purple_y)]:
    fig.add_trace(go.Scatter(x=xs, y=ys, mode='markers', xaxis=xa, yaxis=ya, cliponaxis=False,
                             marker=dict(size=12, color=COL[nm], line=dict(width=0))))
text("theta-delta ratio", 258, 949, size=19, color='#666')
text("mode-median delta coherence", 45, 770, size=19, color='#666', angle=-90)

# B2
xa, ya = add_axes((512, 830, 644, 907),
                  b_axis([0, 10], B_TICKS, colored(B_TICKS, fmt_int, [DK, DK, DK, MD, LT, LT]), 6),
                  b_axis([0.35, 1.0], COH_TICKS, colored(COH_TICKS, fmt_coh, [MD, DK, DK, DK, DK, LT, LT]), 8))
for nm, xs, ys in [('lblue', B2_lblue_x, B2_lblue_y), ('red', B2_red_x, B2_red_y),
                   ('yellow', B2_yellow_x, B2_yellow_y), ('green', B2_green_x, B2_green_y),
                   ('blue', B2_blue_x, B2_blue_y), ('purple', B2_purple_x, B2_purple_y)]:
    fig.add_trace(go.Scatter(x=xs, y=ys, mode='markers', xaxis=xa, yaxis=ya, cliponaxis=False,
                             marker=dict(size=12, color=COL[nm], line=dict(width=0))))
text("theta-delta ratio", 661, 949, size=19, color='#666')
text("mode-median theta coherence", 452, 770, size=19, color='#666', angle=-90)

# C
xa, ya = add_axes((918, 1263, 628, 902),
                  b_axis([0.45, 1.0], C_XTICKS, colored(C_XTICKS, fmt_coh, [DK, DK, DK, DK, LT, LT]), 6),
                  b_axis([0.347, 1.005], COH_TICKS, colored(COH_TICKS, fmt_coh, [DK, DK, DK, MD, DK, LT, LT]), 8))
for nm, xs, ys in [('lblue', C_lblue_x, C_lblue_y), ('red', C_red_x, C_red_y),
                   ('green', C_green_x, C_green_y), ('yellow', C_yellow_x, C_yellow_y),
                   ('blue', C_blue_x, C_blue_y), ('purple', C_purple_x, C_purple_y)]:
    fig.add_trace(go.Scatter(x=xs, y=ys, mode='markers', xaxis=xa, yaxis=ya, cliponaxis=False,
                             marker=dict(size=8, color=COL[nm], line=dict(width=0))))
text("mode-median theta coherence", 1103, 949, size=19, color='#666')
text("mode-median delta coherence", 858, 757, size=19, color='#666', angle=-90)

# titles and panel letters
text("Delta &amp; Theta Coherence in HC Track Power-Ratios Between Bands", 450, 600, size=20, color='#111', bold=True)
text("Delta &amp; Theta Coherence May Compete", 1038, 600, size=20, color='#111', bold=True)
text("A", 20, 20, size=25, color='#000', bold=True)
text("B", 20, 582, size=25, color='#000', bold=True)
text("C", 825, 580, size=25, color='#000', bold=True)

lay['annotations'] = anns
lay['shapes'] = shapes
fig.update_layout(**lay)

# pin the figure to the top-left corner of the page (no body margin, no scrollbars)
PIN_JS = ("var gd=document.getElementById('{plot_id}');"
          "document.documentElement.style.overflow='hidden';"
          "document.body.style.margin='0';document.body.style.overflow='hidden';"
          "gd.style.position='absolute';gd.style.left='0px';gd.style.top='0px';")
fig.write_html("out.html", post_script=PIN_JS,
               config={'displayModeBar': False, 'responsive': False})
